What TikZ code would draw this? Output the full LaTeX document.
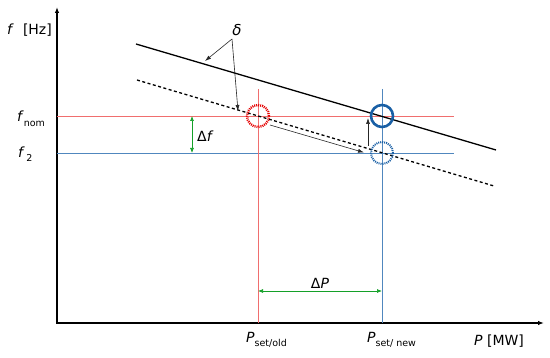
\documentclass[tikz,border=0pt]{standalone}
\usepackage{fontspec}
\setmainfont{DejaVu Sans}
\usetikzlibrary{arrows.meta}
\definecolor{lred}{RGB}{240,110,110}
\definecolor{lblue}{RGB}{80,135,190}
\definecolor{dblue}{RGB}{25,95,165}
\definecolor{dgreen}{RGB}{20,160,40}
\newcommand{\subtxt}[1]{\raisebox{-4.5pt}{\fontsize{9.5}{10}\selectfont #1}}
\begin{document}
\begin{tikzpicture}[x=1pt,y=-1pt,
  lbl/.style={font=\fontsize{14}{16}\selectfont, inner sep=0pt},
  axis/.style={line width=1.2pt, -{Latex[length=6pt,width=4.5pt]}},
  grayarrow/.style={draw=black!85, line width=0.6pt, -{Latex[length=6pt,width=4pt]}},
  greenarrow/.style={draw=dgreen, line width=0.7pt, {Latex[length=5pt,width=4pt]}-{Latex[length=5pt,width=4pt]}},
  ring/.style={circle, minimum size=22pt, inner sep=0pt}]
\useasboundingbox (0,0) rectangle (550,358);
% axes
\coordinate (O) at (57,323);
\coordinate (ytop) at (57,7);
\coordinate (xend) at (544,323);
\draw[axis] (O) -- (ytop);
\draw[line width=1.2pt, -{Latex[length=6pt,width=4.5pt]}] (56.4,323) -- (xend);
% guide lines
\coordinate (rl) at (57,116); \coordinate (rr) at (454,116);
\coordinate (bl) at (57,153); \coordinate (br) at (454,153);
\coordinate (rt) at (258,89); \coordinate (rb) at (258,323);
\coordinate (bt) at (382,89); \coordinate (bb) at (382,323);
\draw[lred, line width=0.8pt] (rl) -- (rr);
\draw[lblue, line width=0.8pt] (bl) -- (br);
\draw[lred, line width=0.8pt] (rt) -- (rb);
\draw[lblue, line width=0.8pt] (bt) -- (bb);
% droop lines
\coordinate (s1) at (136,44); \coordinate (s2) at (496,150);
\coordinate (d1) at (137,80); \coordinate (d2) at (494,186);
\draw[line width=1.3pt] (s1) -- (s2);
\draw[line width=1.3pt, dash pattern=on 3pt off 2.5pt] (d1) -- (d2);
% circles
\node[ring, draw=red!90!black, line width=2.4pt, dash pattern=on 1pt off 1pt] (cr) at (258,116) {};
\node[ring, draw=dblue, line width=2.6pt] (cb) at (382,116) {};
\node[ring, draw=dblue, line width=2pt, dash pattern=on 1pt off 1pt] (cd) at (382,153) {};
% delta
\node[lbl, font=\fontsize{15}{17}\selectfont] (delta) at (237,30) {\textit{δ}};
\coordinate (dsrc) at (232,39);
\coordinate (dt1) at (205,61);
\coordinate (dt2) at (238,111);
\draw[grayarrow] (dsrc) -- (dt1);
\draw[grayarrow] (dsrc) -- (dt2);
% movement arrows
\coordinate (m1) at (270,125); \coordinate (m2) at (364,152.5);
\draw[grayarrow] (m1) -- (m2);
\coordinate (u1) at (368,146); \coordinate (u2) at (368,118);
\draw[grayarrow] (u1) -- (u2);
% delta f
\coordinate (f1) at (192,116); \coordinate (f2) at (192,153);
\draw[greenarrow] (f1) -- (f2);
\node[lbl, anchor=west] (dflab) at (197,136) {Δ\textit{f}};
% delta P
\coordinate (p1) at (258,291); \coordinate (p2) at (382,291);
\draw[greenarrow] (p1) -- (p2);
\node[lbl] (dplab) at (320,283) {Δ\textit{P}};
% labels
\node[lbl, anchor=west] (fhz) at (7,30) {\textit{f}\,\, [Hz]};
\node[lbl, anchor=west] (fnom) at (17,119) {\textit{f}\subtxt{nom}};
\node[lbl, anchor=west] (ftwo) at (18,154) {\textit{f}\subtxt{\,2}};
\node[lbl, anchor=west] (pold) at (246,340) {\textit{P}\subtxt{set/old}};
\node[lbl, anchor=west] (pnew) at (367,340) {\textit{P}\subtxt{set/ new}};
\node[lbl, anchor=west] (pmw) at (474,341) {\textit{P} [MW]};
\end{tikzpicture}
\end{document}
